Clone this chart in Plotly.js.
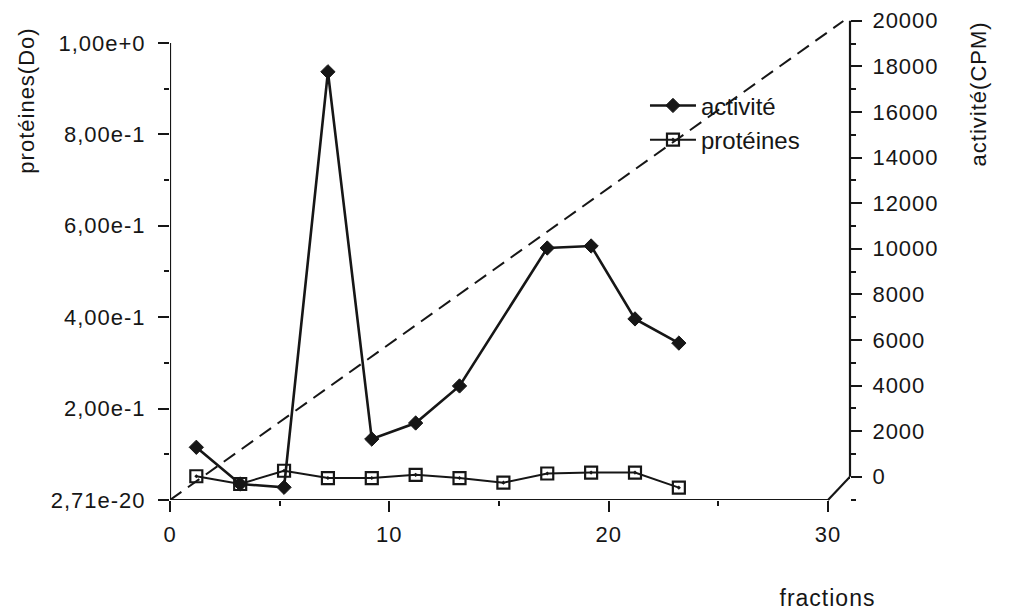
<!DOCTYPE html>
<html>
<head>
<meta charset="utf-8">
<script src="https://cdn.plot.ly/plotly-3.0.1.min.js"></script>
<style>
html,body{margin:0;padding:0;background:#fff;}
#chart{width:1010px;height:614px;}
#chart .xtick text, #chart .ytick text, #chart .y2tick text, #chart .annotation-text{letter-spacing:1px;}
</style>
</head>
<body>
<div id="chart"></div>
<script>
// ---- data ----
const activityX   = [1.2, 3.2, 5.2, 7.2, 9.2, 11.2, 13.2, 17.2, 19.2, 21.2, 23.2];
const activityCPM = [1290, -320, -465, 17760, 1650, 2355, 3980, 10030, 10120, 6920, 5860];

const proteinX  = [1.2, 3.2, 5.2, 7.2, 9.2, 11.2, 13.2, 15.2, 17.2, 19.2, 21.2, 23.2];
const proteinDO = [0.052, 0.035, 0.064, 0.048, 0.048, 0.055, 0.048, 0.038, 0.058, 0.060, 0.060, 0.027];

const gradientX  = [0, 30.7];
const gradientDO = [0, 1.048];

const leftTickVals  = [0, 0.2, 0.4, 0.6, 0.8, 1.0];
const leftTickText  = ["2,71e-20", "2,00e-1", "4,00e-1", "6,00e-1", "8,00e-1", "1,00e+0"];
const rightTickVals = [0, 2000, 4000, 6000, 8000, 10000, 12000, 14000, 16000, 18000, 20000];
const rightTickText = ["0", "2000", "4000", "6000", "8000", "10000", "12000", "14000", "16000", "18000", "20000"];
const xTickVals = [0, 10, 20, 30];
const xTickText = ["0", "10", "20", "30"];

const FONT = "Liberation Sans, Arial, Helvetica, sans-serif";
const INK = "#161616";

const traces = [
  {
    x: activityX, y: activityCPM, yaxis: "y2", name: "activité",
    type: "scatter", mode: "lines+markers", legendgroup: "a",
    line: {color: INK, width: 2.6},
    marker: {symbol: "diamond", size: 11, color: INK, line: {color: INK, width: 1}}
  },
  {
    x: proteinX, y: proteinDO, yaxis: "y", name: "protéines",
    type: "scatter", mode: "lines+markers", legendgroup: "p",
    line: {color: INK, width: 2},
    marker: {symbol: "square-open-dot", size: 12, color: INK, line: {color: INK, width: 2.2}}
  },
  {
    x: gradientX, y: gradientDO, yaxis: "y", name: "gradient",
    type: "scatter", mode: "lines", showlegend: false, hoverinfo: "skip",
    line: {color: INK, width: 2, dash: "14px,8px"}
  }
];

const layout = {
  width: 1010, height: 614,
  margin: {l: 170, r: 160, t: 20, b: 114, pad: 0},
  paper_bgcolor: "#ffffff", plot_bgcolor: "#ffffff",
  font: {family: FONT, size: 22, color: INK},
  showlegend: true,
  legend: {
    x: 0.6985, y: 0.868, xanchor: "left", yanchor: "top",
    bgcolor: "rgba(0,0,0,0)", borderwidth: 0,
    font: {family: FONT, size: 24, color: INK},
    traceorder: "grouped", tracegroupgap: 0, itemwidth: 46
  },
  xaxis: {
    range: [0, 31.003], showgrid: false, zeroline: false, showline: false,
    tickmode: "array", tickvals: xTickVals, ticktext: xTickText,
    ticks: "outside", ticklen: 11, tickwidth: 2, tickcolor: INK,
    ticklabelstandoff: 4,
    minor: {tickmode: "array", tickvals: [5, 15, 25], ticks: "outside", ticklen: 5, tickwidth: 2, tickcolor: INK},
    tickfont: {family: FONT, size: 22, color: INK}
  },
  yaxis: {
    range: [0, 1.0503], showgrid: false, zeroline: false, showline: false,
    tickmode: "array", tickvals: leftTickVals, ticktext: leftTickText,
    ticks: "outside", ticklen: 11, tickwidth: 2, tickcolor: INK,
    ticklabelstandoff: 8,
    minor: {tickmode: "array", tickvals: [0.1, 0.3, 0.5, 0.7, 0.9], ticks: "outside", ticklen: 5, tickwidth: 2, tickcolor: INK},
    tickfont: {family: FONT, size: 22, color: INK}
  },
  yaxis2: {
    overlaying: "y", side: "right", anchor: "x",
    range: [-1022, 20031], showgrid: false, zeroline: false, showline: false,
    tickmode: "array", tickvals: rightTickVals, ticktext: rightTickText,
    ticks: "outside", ticklen: 11, tickwidth: 2, tickcolor: INK,
    ticklabelstandoff: 6,
    minor: {dtick: 1000, ticks: "outside", ticklen: 5, tickwidth: 2, tickcolor: INK},
    tickfont: {family: FONT, size: 22, color: INK}
  },
  shapes: [
    {type: "line", xref: "x", yref: "y", x0: 0, y0: 0, x1: 0, y1: 1.0, line: {color: INK, width: 2.2}},
    {type: "line", xref: "x", yref: "y", x0: 0, y0: 0, x1: 30, y1: 0, line: {color: INK, width: 2.2}},
    {type: "line", xref: "x", yref: "paper", x0: 30, y0: 0, x1: 31.003, y1: 0.0485, line: {color: INK, width: 2.2}},
    {type: "line", xref: "paper", yref: "y2", x0: 1, y0: 0, x1: 1, y1: 20000, line: {color: INK, width: 2.2}}
  ],
  annotations: [
    {text: "protéines(Do)", xref: "paper", yref: "paper", x: -0.2118, y: 0.833,
     xanchor: "center", yanchor: "middle", textangle: -90, showarrow: false,
     font: {family: FONT, size: 22, color: INK}},
    {text: "activité(CPM)", xref: "paper", yref: "paper", x: 1.1897, y: 0.846,
     xanchor: "center", yanchor: "middle", textangle: -90, showarrow: false,
     font: {family: FONT, size: 22, color: INK}},
    {text: "fractions", xref: "paper", yref: "paper", x: 0.9676, y: -0.204,
     xanchor: "center", yanchor: "middle", showarrow: false,
     font: {family: FONT, size: 23, color: INK}}
  ]
};

Plotly.newPlot("chart", traces, layout, {displayModeBar: false, staticPlot: true});
</script>
</body>
</html>
